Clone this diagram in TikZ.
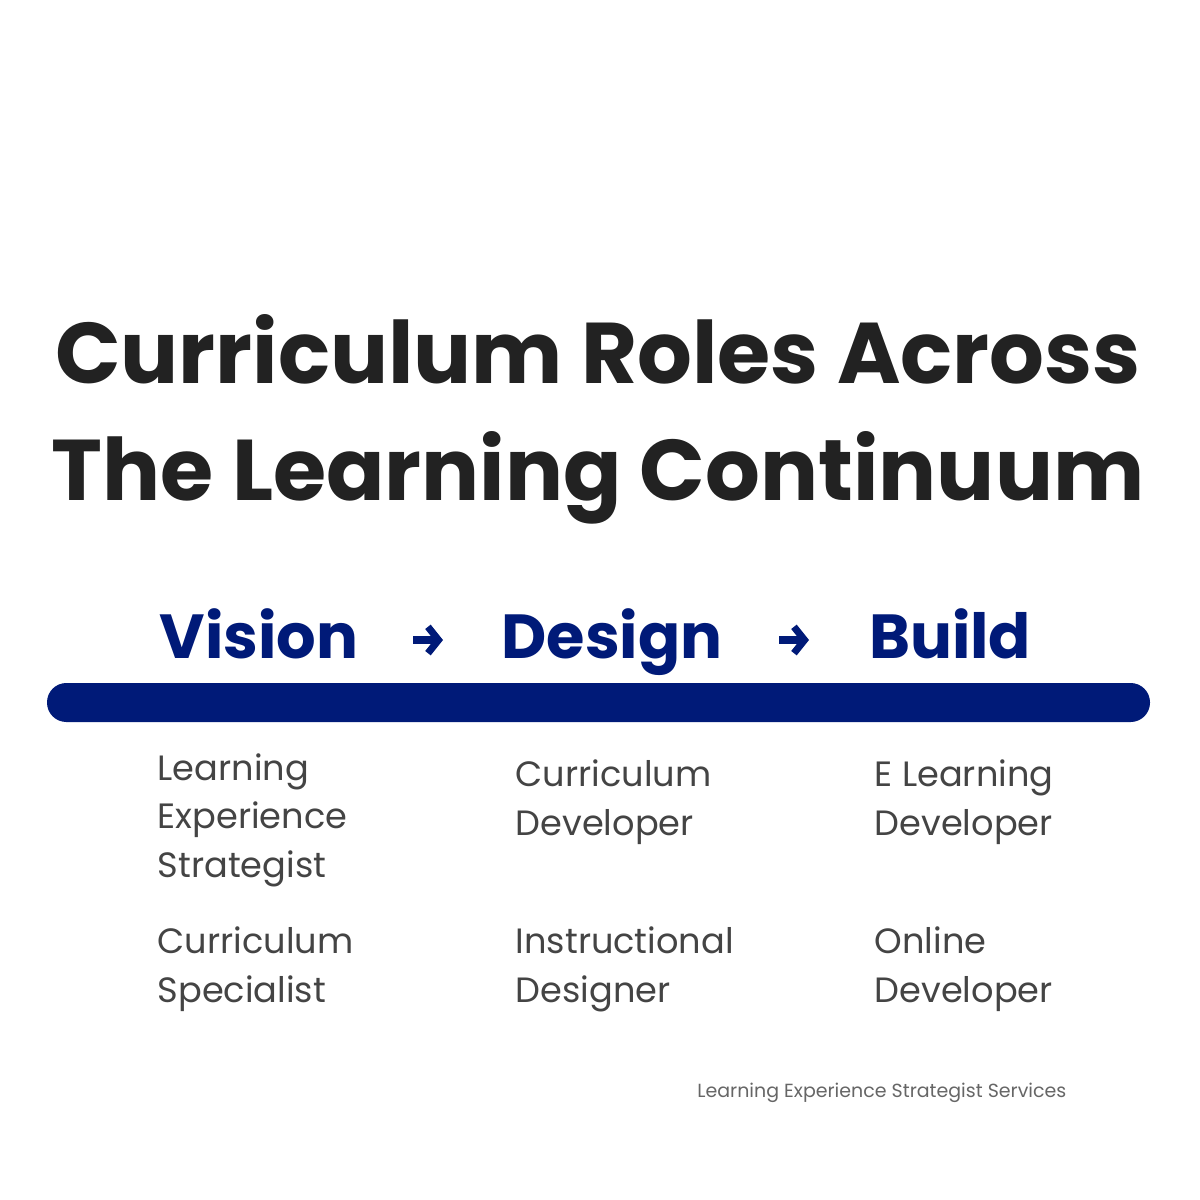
\documentclass[tikz,border=0pt]{standalone}
\usepackage{fontspec}
\setmainfont{Poppins}
\usetikzlibrary{arrows.meta}
\definecolor{titlegray}{HTML}{222222}
\definecolor{roleblue}{HTML}{001A78}
\definecolor{rolegray}{HTML}{444444}
\definecolor{notegray}{HTML}{666666}
\tikzset{
  title/.style={text=titlegray,font=\bfseries\fontsize{24.5pt}{30pt}\selectfont,anchor=base,inner sep=0pt},
  stage/.style={text=roleblue,font=\bfseries\fontsize{17.7pt}{22pt}\selectfont,anchor=base,inner sep=0pt},
  role/.style={text=rolegray,font=\fontsize{10pt}{13.66pt}\selectfont,anchor=base west,inner sep=0pt,align=left},
  flowarrow/.style={roleblue,line width=2pt,-{Straight Barb[length=3pt,width=7.5pt]}}
}
\begin{document}
\begin{tikzpicture}[x=0.01cm,y=-0.01cm]
    \useasboundingbox (0,0) rectangle (1200,1200);

    \node[title] (t1) at (598,383) {Curriculum Roles Across};
    \node[title] (t2) at (598,500) {The Learning Continuum};

    \node[stage] (vision) at (259,658) {Vision};
    \node[stage] (design) at (612,658) {Design};
    \node[stage] (build) at (950,658) {Build};

    \coordinate (a1s) at (413,640);
    \coordinate (a1e) at (443,640);
    \coordinate (a2s) at (779,640);
    \coordinate (a2e) at (809,640);
    \draw[flowarrow] (a1s) -- (a1e);
    \draw[flowarrow] (a2s) -- (a2e);

    \fill[roleblue,rounded corners=5.5pt] (47,683) rectangle (1150,722);

    % base of each role node is its last line
    \node[role] (les) at (157,877) {Learning\\Experience\\Strategist};
    \node[role] (cs) at (157,1002) {Curriculum\\Specialist};
    \node[role] (cd) at (515,835) {Curriculum\\Developer};
    \node[role] (id) at (515,1002) {Instructional\\Designer};
    \node[role] (eld) at (874,835) {E Learning\\Developer};
    \node[role] (od) at (874,1002) {Online\\Developer};

    \node[text=notegray,font=\fontsize{5.4pt}{6pt}\selectfont,anchor=base east,inner sep=0pt] (note) at (1067,1097) {Learning Experience Strategist Services};
\end{tikzpicture}
\end{document}
